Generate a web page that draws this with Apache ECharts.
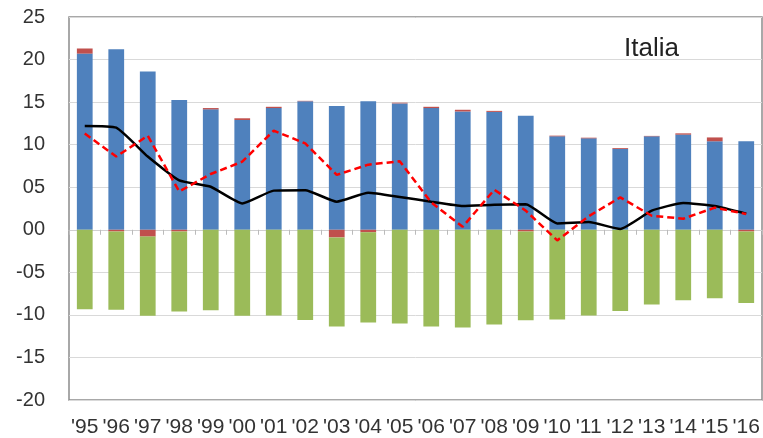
<!DOCTYPE html>
<html>
<head>
<meta charset="utf-8">
<script src="https://cdn.jsdelivr.net/npm/echarts@6/dist/echarts.min.js"></script>
<style>html,body{margin:0;padding:0;background:#fff}#c{width:763px;height:438px}</style>
</head>
<body>
<div id="c"></div>
<script>
const years = ["'95","'96","'97","'98","'99","'00","'01","'02","'03","'04","'05","'06","'07","'08","'09","'10","'11","'12","'13","'14","'15","'16"];
const blueVals = [20.7, 21.2, 18.6, 15.25, 14.15, 12.9, 14.3, 15.1, 14.55, 15.1, 14.85, 14.3, 13.9, 13.85, 13.4, 10.98, 10.74, 9.5, 10.98, 11.18, 10.4, 10.4];
const redVals = [0.6, -0.2, -0.8, -0.2, 0.15, 0.2, 0.15, 0.05, -0.9, -0.3, 0.08, 0.15, 0.2, 0.12, -0.2, 0.08, 0.08, 0.1, 0.05, 0.15, 0.45, -0.2];
const greenVals = [-9.33, -9.2, -9.3, -9.4, -9.45, -10.1, -10.08, -10.6, -10.47, -10.6, -11.02, -11.37, -11.49, -11.14, -10.43, -10.55, -10.08, -9.53, -8.78, -8.27, -8.04, -8.39];
const blackLine = [12.2, 12.0, 8.6, 5.8, 5.05, 3.1, 4.6, 4.65, 3.3, 4.35, 3.85, 3.3, 2.8, 2.95, 3.0, 0.75, 0.9, 0.1, 2.25, 3.15, 2.8, 1.9];
const redDashed = [11.3, 8.6, 11.05, 4.5, 6.55, 8.0, 11.65, 10.15, 6.45, 7.65, 8.05, 3.2, 0.35, 4.7, 2.25, -1.25, 1.6, 3.8, 1.65, 1.3, 2.6, 1.85];
const title = 'Italia';

const font = 'Liberation Sans, Arial, sans-serif';
function pad(v) {
  const a = Math.abs(v);
  const s = (a < 10 ? '0' : '') + a;
  return (v < 0 ? '-' : '') + s;
}
const chart = echarts.init(document.getElementById('c'), null, {renderer: 'canvas'});
chart.setOption({
  animation: false,
  title: {
    text: title, left: 619, top: 31,
    textStyle: {fontFamily: font, fontSize: 26, fontWeight: 'normal', color: '#222'}
  },
  grid: {
    left: 69, right: 1, top: 17, bottom: 38,
    containLabel: false, outerBoundsMode: 'none',
    show: true, borderColor: '#8c8c8c', borderWidth: 1.5
  },
  xAxis: [{
    type: 'category', data: years, position: 'bottom',
    axisLine: {onZero: false, show: false},
    axisTick: {show: false},
    axisLabel: {fontFamily: font, fontSize: 21, color: '#333', margin: 17, interval: 0, hideOverlap: false}
  }, {
    type: 'category', data: years, position: 'top',
    axisLine: {onZero: true, lineStyle: {color: '#d0d0d0', width: 1}},
    axisTick: {show: true, inside: true, length: 5, lineStyle: {color: '#bbb'}},
    axisLabel: {show: false}
  }],
  yAxis: {
    type: 'value', min: -20, max: 25, interval: 5,
    axisLine: {show: false}, axisTick: {show: false},
    splitLine: {lineStyle: {color: '#d9d9d9', width: 1}},
    axisLabel: {fontFamily: font, fontSize: 20, color: '#333', margin: 24, formatter: pad}
  },
  series: [
    {type: 'bar', stack: 's', data: blueVals, barWidth: '50%', itemStyle: {color: '#4f81bd'}},
    {type: 'bar', stack: 's', data: redVals, itemStyle: {color: '#c0504d'}},
    {type: 'bar', stack: 's', data: greenVals, itemStyle: {color: '#9bbb59'}},
    {type: 'line', data: blackLine, smooth: 0.15, symbol: 'none', z: 5,
     lineStyle: {color: '#000', width: 2.5}},
    {type: 'line', data: redDashed, smooth: false, symbol: 'none', z: 6,
     lineStyle: {color: '#ff0000', width: 2.5, type: [7, 4]}}
  ]
});
</script>
</body>
</html>
